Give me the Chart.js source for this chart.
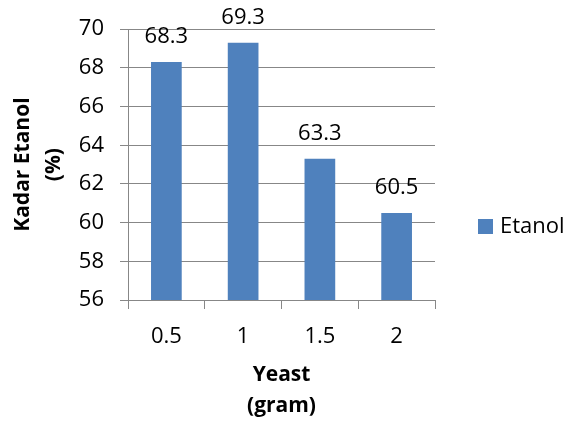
<!DOCTYPE html>
<html>
<head>
<meta charset="utf-8">
<script src="https://cdn.jsdelivr.net/npm/chart.js@4"></script>
<style>
  html, body { margin: 0; padding: 0; background: #fff; }
  canvas { display: block; }
</style>
</head>
<body>
<canvas id="chart" width="568" height="422"></canvas>
<script>
// --- data ---
const yeastLabels = ['0.5', '1', '1.5', '2'];
const etanolValues = [68.3, 69.3, 63.3, 60.5];
const seriesName = 'Etanol';
const yTicks = { min: 56, max: 70, step: 2 };

const FONT = "'Open Sans', 'Liberation Sans', sans-serif";
const GRID = '#878787';
const BAR = '#4f81bd';

// value labels above each bar
const barLabels = {
    id: 'barLabels',
    afterDatasetsDraw(chart) {
        const ctx = chart.ctx;
        ctx.save();
        ctx.font = '22px ' + FONT;
        ctx.fillStyle = '#000';
        ctx.textAlign = 'center';
        ctx.textBaseline = 'middle';
        chart.data.datasets.forEach((ds, i) => {
            chart.getDatasetMeta(i).data.forEach((bar, j) => {
                ctx.fillText(String(ds.data[j]), bar.x, bar.y - 25);
            });
        });
        ctx.restore();
    }
};

// legend drawn on the right, like the original
const sideLegend = {
    id: 'sideLegend',
    afterDraw(chart) {
        const ctx = chart.ctx;
        const ds = chart.data.datasets[0];
        ctx.save();
        ctx.fillStyle = ds.backgroundColor;
        ctx.fillRect(478, 219, 15, 15);
        ctx.font = '22px ' + FONT;
        ctx.fillStyle = '#000';
        ctx.textAlign = 'left';
        ctx.textBaseline = 'middle';
        ctx.fillText(ds.label, 500, 227);
        ctx.restore();
    }
};

new Chart(document.getElementById('chart'), {
    type: 'bar',
    data: {
        labels: yeastLabels,
        datasets: [{
            label: seriesName,
            data: etanolValues,
            backgroundColor: BAR,
            categoryPercentage: 1,
            barPercentage: 0.4
        }]
    },
    options: {
        responsive: false,
        devicePixelRatio: 1,
        animation: false,
        layout: { padding: { top: 27, right: 133, left: 0, bottom: 0 } },
        plugins: {
            legend: { display: false },
            tooltip: { enabled: false }
        },
        scales: {
            x: {
                afterFit: (s) => { s.height = 122; },
                grid: {
                    display: true,
                    drawOnChartArea: false,
                    drawTicks: true,
                    tickLength: 9,
                    color: GRID,
                    offset: true
                },
                border: { color: GRID },
                ticks: { color: '#000', font: { family: FONT, size: 22 }, padding: 15 },
                title: {
                    display: true,
                    text: ['Yeast', '(gram)'],
                    color: '#000',
                    font: { family: FONT, size: 21, weight: 'bold', lineHeight: 1.45 },
                    padding: { top: 0, bottom: 1 }
                }
            },
            y: {
                min: yTicks.min,
                max: yTicks.max,
                afterFit: (s) => { s.width = 128; },
                grid: { color: GRID, tickLength: 8 },
                border: { color: GRID },
                ticks: {
                    stepSize: yTicks.step,
                    color: '#000',
                    font: { family: FONT, size: 22 },
                    padding: 16
                },
                title: {
                    display: true,
                    text: ['Kadar Etanol', '(%)'],
                    color: '#000',
                    font: { family: FONT, size: 21, weight: 'bold', lineHeight: 1.5 },
                    padding: { top: 7, bottom: 0 }
                }
            }
        }
    },
    plugins: [barLabels, sideLegend]
});
</script>
</body>
</html>
